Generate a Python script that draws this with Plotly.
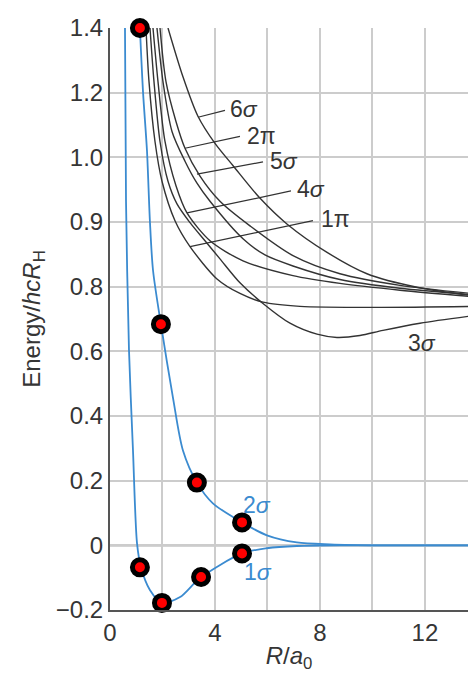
import numpy as np
import plotly.graph_objects as go

# ---- axis tick labels (the y-axis labels are spaced evenly, as printed) ----
Y_TICK_LABELS = ["−0.2", "0", "0.2", "0.4", "0.6", "0.8", "0.9", "1.0", "1.2", "1.4"]
Y_TICK_VALUES = [-0.2, 0.0, 0.2, 0.4, 0.6, 0.8, 0.9, 1.0, 1.2, 1.4]
X_TICK_VALS = [0, 4, 8, 12]
X_TICK_TEXT = ["0", "4", "8", "12"]

# ---- blue curves ----
r_1s = [0.571, 0.61, 0.724, 0.876, 1.03, 1.18, 1.52, 1.98, 2.67, 3.43, 5.03, 5.98, 7.12, 9.14, 14.0]
e_1s = [1.4, 0.932, 0.603, 0.293, 0.006, -0.068, -0.138, -0.178, -0.16, -0.101, -0.025, -0.009, -0.002, 0.0, 0.0]

r_2s = [1.14, 1.26, 1.41, 1.52, 1.64, 1.94, 2.4, 2.78, 3.31, 3.92, 5.03, 5.98, 7.12, 8.38, 10.3, 14.0]
e_2s = [1.4, 1.2, 1.019, 0.902, 0.825, 0.684, 0.456, 0.293, 0.194, 0.13, 0.071, 0.031, 0.009, 0.003, 0.0, 0.0]

# ---- marked points ----
mark_2s_r = [1.14, 1.94, 3.31, 5.03]
mark_2s_e = [1.4, 0.684, 0.194, 0.071]
mark_1s_r = [1.14, 1.98, 3.47, 5.03]
mark_1s_e = [-0.068, -0.178, -0.098, -0.025]

# ---- black curves ----
r_1p = [1.371, 1.486, 1.714, 1.981, 2.476, 3.048, 4.076, 4.952, 5.829, 7.238, 10.286, 14.0]
e_1p = [1.4, 1.234, 1.049, 0.963, 0.902, 0.862, 0.812, 0.779, 0.752, 0.739, 0.736, 0.739]

r_3s = [1.524, 1.676, 1.905, 2.21, 2.552, 3.048, 3.619, 4.19, 4.952, 5.829, 6.857, 7.886, 8.648, 9.524, 10.4, 11.81, 14.0]
e_3s = [1.4, 1.234, 1.049, 0.963, 0.928, 0.899, 0.871, 0.843, 0.806, 0.748, 0.687, 0.653, 0.643, 0.649, 0.665, 0.687, 0.712]

r_4s = [1.638, 1.829, 2.095, 2.514, 2.933, 3.81, 5.067, 6.971, 8.762, 11.048, 14.0]
e_4s = [1.4, 1.234, 1.049, 0.956, 0.914, 0.871, 0.840, 0.817, 0.805, 0.789, 0.768]

r_5s = [1.79, 2.019, 2.362, 2.857, 3.314, 3.81, 5.067, 5.905, 6.971, 8.762, 11.048, 14.0]
e_5s = [1.4, 1.234, 1.080, 0.994, 0.960, 0.932, 0.874, 0.849, 0.832, 0.811, 0.795, 0.774]

r_2p = [1.905, 2.133, 2.514, 2.857, 3.429, 4.19, 5.333, 6.971, 8.762, 11.048, 14.0]
e_2p = [1.4, 1.234, 1.111, 1.028, 0.971, 0.932, 0.894, 0.848, 0.820, 0.802, 0.777]

r_6s = [2.21, 2.78, 3.35, 4.0, 4.69, 5.71, 6.74, 8.27, 9.79, 11.7, 14.0]
e_6s = [1.4, 1.249, 1.127, 1.043, 0.987, 0.937, 0.897, 0.853, 0.820, 0.798, 0.770]

# ---- curve labels with leader lines: (text, leader start R,E, leader end R,E, text R,E) ----
LEADERS = [
    ("6<i>σ</i>", 3.352, 1.124, 4.381, 1.145, 4.50, 1.148),
    ("2π", 2.857, 1.028, 4.952, 1.065, 5.14, 1.065),
    ("5<i>σ</i>", 3.314, 0.974, 5.829, 0.993, 6.02, 0.994),
    ("4<i>σ</i>", 2.933, 0.914, 6.895, 0.948, 7.05, 0.951),
    ("1π", 3.048, 0.862, 7.733, 0.902, 7.95, 0.905),
]

IDX = np.arange(len(Y_TICK_VALUES), dtype=float)


def u(e):
    """Map energy (as labelled on the printed axis) to the evenly spaced axis position."""
    return np.interp(np.asarray(e, dtype=float), Y_TICK_VALUES, IDX)


BLUE = "#3b8bd0"
DARK = "#353535"
FONT = "Liberation Sans, Arial, sans-serif"

fig = go.Figure()

for rr, ee in [(r_1p, e_1p), (r_3s, e_3s), (r_4s, e_4s), (r_5s, e_5s), (r_2p, e_2p), (r_6s, e_6s)]:
    fig.add_trace(go.Scatter(x=rr, y=u(ee), mode="lines",
                             line=dict(color="#333333", width=1.4, shape="spline", smoothing=0.8),
                             hoverinfo="skip", showlegend=False))

for rr, ee in [(r_1s, e_1s), (r_2s, e_2s)]:
    fig.add_trace(go.Scatter(x=rr, y=u(ee), mode="lines",
                             line=dict(color=BLUE, width=1.8, shape="spline", smoothing=0.8),
                             hoverinfo="skip", showlegend=False))

fig.add_trace(go.Scatter(x=mark_2s_r + mark_1s_r, y=u(mark_2s_e + mark_1s_e), mode="markers",
                         marker=dict(color="#ff0000", size=15, line=dict(color="black", width=5)),
                         cliponaxis=False, hoverinfo="skip", showlegend=False))

shapes = []
annotations = []
# zero line
shapes.append(dict(type="line", xref="paper", x0=0, x1=1, yref="y", y0=float(u(0.0)), y1=float(u(0.0)),
                   line=dict(color="#555555", width=1.6), layer="below"))
for text, r0, e0, r1, e1, rt, et in LEADERS:
    shapes.append(dict(type="line", xref="x", yref="y", x0=r0, y0=float(u(e0)), x1=r1, y1=float(u(e1)),
                       line=dict(color="#333333", width=1.2)))
    annotations.append(dict(x=rt, y=float(u(et)), xref="x", yref="y", text=text, showarrow=False,
                            xanchor="left", yanchor="middle",
                            font=dict(family=FONT, size=23, color=DARK)))

annotations.append(dict(x=11.89, y=float(u(0.625)), xref="x", yref="y", text="3<i>σ</i>", showarrow=False,
                        xanchor="center", yanchor="middle", font=dict(family=FONT, size=23, color=DARK)))
annotations.append(dict(x=5.6, y=float(u(0.124)), xref="x", yref="y", text="2<i>σ</i>", showarrow=False,
                        xanchor="center", yanchor="middle", font=dict(family=FONT, size=23, color=BLUE)))
annotations.append(dict(x=5.64, y=float(u(-0.083)), xref="x", yref="y", text="1<i>σ</i>", showarrow=False,
                        xanchor="center", yanchor="middle", font=dict(family=FONT, size=23, color=BLUE)))

fig.update_layout(
    width=468, height=674,
    margin=dict(l=110, r=0, t=28, b=64),
    paper_bgcolor="white", plot_bgcolor="white",
    shapes=shapes, annotations=annotations,
    font=dict(family=FONT, color=DARK),
    xaxis=dict(range=[0, 13.64], tickvals=X_TICK_VALS, ticktext=X_TICK_TEXT,
               showgrid=True, gridcolor="#cccccc", gridwidth=1.5,
               minor=dict(dtick=2, tick0=0, showgrid=True, gridcolor="#cccccc", gridwidth=1.5),
               showline=True, linecolor="#555555", linewidth=2,
               ticks="", tickfont=dict(family=FONT, size=24, color=DARK),
               title=dict(text="<i>R</i>/<i>a</i><sub>0</sub>", font=dict(family=FONT, size=24, color=DARK),
                          standoff=2),
               zeroline=False, fixedrange=True),
    yaxis=dict(range=[0, 9], tickvals=list(IDX), ticktext=Y_TICK_LABELS,
               showgrid=True, gridcolor="#cccccc", gridwidth=1.5,
               showline=True, linecolor="#555555", linewidth=2,
               ticks="", tickfont=dict(family=FONT, size=24, color=DARK),
               title=dict(text="Energy/<i>hcR</i><sub>H</sub>", font=dict(family=FONT, size=24, color=DARK),
                          standoff=8),
               zeroline=False, fixedrange=True),
)

fig.write_html("out.html")
